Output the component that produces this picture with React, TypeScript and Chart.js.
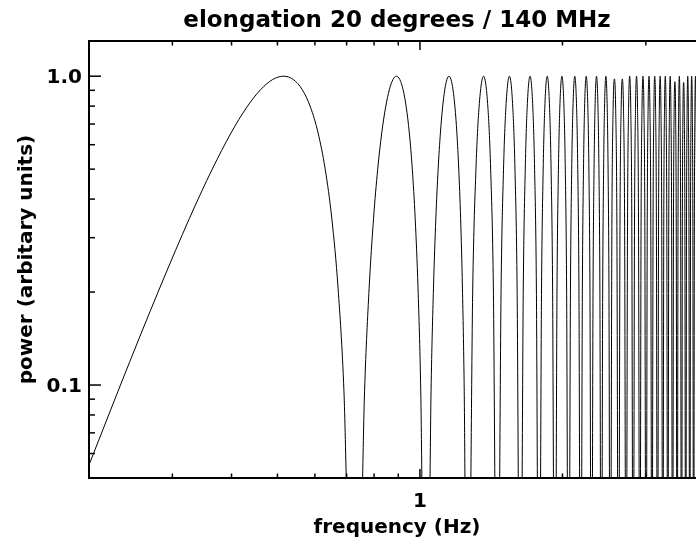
import { useEffect, useRef } from 'react';
import { Chart, registerables } from 'chart.js';

Chart.register(...registerables);

// Frequency (Hz) of the points, one line per lobe
const frequencyHz: number[] = [
  0.2, 0.2155, 0.2303, 0.2575, 0.2821, 0.3047, 0.3257, 0.3455, 0.3642, 0.3989, 0.4309, 0.4607, 0.4886, 0.515, 0.5402, 0.5642, 0.5872, 0.6094, 0.6308, 0.6515, 0.6715, 0.691, 0.7099,
  0.7463, 0.7639, 0.7811, 0.7979, 0.8143, 0.8304, 0.8463, 0.8618, 0.8771, 0.892, 0.9068, 0.9213, 0.9356, 0.9497, 0.9635, 0.9772, 0.9907, 1.004, 1.0171,
  1.0428, 1.0555, 1.068, 1.0803, 1.0925, 1.1046, 1.1165, 1.1284, 1.1401, 1.1516, 1.1631, 1.1744, 1.1857, 1.1968, 1.2078, 1.2188, 1.2296, 1.2403, 1.251,
  1.272, 1.2927, 1.3131, 1.3331, 1.3626, 1.3915, 1.4104, 1.4291, 1.4476,
  1.4658, 1.4838, 1.5015, 1.5191, 1.5451, 1.5706, 1.5874, 1.604, 1.6205,
  1.6368, 1.6529, 1.6689, 1.6847, 1.7081, 1.7313, 1.7465, 1.7617, 1.7766,
  1.7915, 1.8063, 1.8209, 1.8354, 1.8569, 1.8782, 1.8923, 1.9063, 1.9201,
  1.9339, 1.9476, 1.9611, 1.9746, 1.9947, 2.0145, 2.0276, 2.0407, 2.0536,
  2.0665, 2.0793, 2.092, 2.1047, 2.1235, 2.1421, 2.1545, 2.1668, 2.179,
  2.1911, 2.2032, 2.2152, 2.2271, 2.2449, 2.2626, 2.2743, 2.2859, 2.2975,
  2.309, 2.3205, 2.3319, 2.3432, 2.3601, 2.3769, 2.3881, 2.3991, 2.4102,
  2.4212, 2.4321, 2.443, 2.4538, 2.47, 2.486, 2.4967, 2.5073, 2.5178,
  2.5282, 2.5437, 2.5591, 2.5746, 2.59, 2.6055, 2.621,
  2.6311, 2.6459, 2.6608, 2.6757, 2.6905, 2.7054, 2.7203,
  2.73, 2.7444, 2.7587, 2.7731, 2.7874, 2.8018, 2.8161,
  2.8255, 2.8394, 2.8533, 2.8671, 2.881, 2.8949, 2.9088,
  2.9179, 2.9313, 2.9448, 2.9582, 2.9717, 2.9851, 2.9986,
  3.0074, 3.0205, 3.0335, 3.0466, 3.0597, 3.0727, 3.0858,
  3.0944, 3.1071, 3.1198, 3.1325, 3.1452, 3.1579, 3.1706,
  3.1789, 3.1913, 3.2037, 3.216, 3.2284, 3.2408, 3.2532,
  3.2613, 3.2734, 3.2854, 3.2975, 3.3096, 3.3216, 3.3337,
  3.3417, 3.3534, 3.3652, 3.377, 3.3888, 3.4006, 3.4123,
  3.4201, 3.4316, 3.4431, 3.4547, 3.4662, 3.4777, 3.4892,
  3.4968, 3.5081, 3.5193, 3.5306, 3.5419, 3.5531, 3.5644,
  3.5719, 3.5829, 3.5939, 3.605, 3.616, 3.627, 3.6381,
  3.6454, 3.6562, 3.667, 3.6778, 3.6886, 3.6995, 3.7103,
  3.7174, 3.728, 3.7386, 3.7493, 3.7599, 3.7705, 3.7811,
  3.7881, 3.7985, 3.8089, 3.8193, 3.8298, 3.8402, 3.8506,
  3.8575, 3.8677, 3.8779, 3.8882, 3.8984, 3.9086, 3.9189,
  3.9256, 3.9357, 3.9458, 3.9558, 3.9659, 3.9759, 3.986,
];

// Power (arbitrary units) at the same points
const powerArb: number[] = [
  0.0551, 0.0737, 0.0955, 0.1465, 0.2061, 0.273, 0.3455, 0.4218, 0.5, 0.6545, 0.7939, 0.9045, 0.9755, 1, 0.9755, 0.9045, 0.7939, 0.6545, 0.5, 0.3455, 0.2061, 0.0955, 0.0245,
  0.0245, 0.0955, 0.2061, 0.3455, 0.5, 0.6545, 0.7939, 0.9045, 0.9755, 1, 0.9755, 0.9045, 0.7939, 0.6545, 0.5, 0.3455, 0.2061, 0.0955, 0.0245,
  0.0245, 0.0955, 0.2061, 0.3455, 0.5, 0.6545, 0.7939, 0.9045, 0.9755, 1, 0.9755, 0.9045, 0.7939, 0.6545, 0.5, 0.3455, 0.2061, 0.0955, 0.0245,
  0.0245, 0.2061, 0.5, 0.7939, 1, 0.7939, 0.5, 0.2061, 0.0245,
  0.0245, 0.2061, 0.5, 0.7939, 1, 0.7939, 0.5, 0.2061, 0.0245,
  0.0245, 0.2061, 0.5, 0.7939, 1, 0.7939, 0.5, 0.2061, 0.0245,
  0.0245, 0.2061, 0.5, 0.7939, 1, 0.7939, 0.5, 0.2061, 0.0245,
  0.0245, 0.2061, 0.5, 0.7939, 1, 0.7939, 0.5, 0.2061, 0.0245,
  0.0245, 0.2061, 0.5, 0.7939, 1, 0.7939, 0.5, 0.2061, 0.0245,
  0.0245, 0.2061, 0.5, 0.7939, 1, 0.7939, 0.5, 0.2061, 0.0245,
  0.0245, 0.2061, 0.5, 0.7939, 1, 0.7939, 0.5, 0.2061, 0.0245,
  0.0245, 0.2061, 0.5, 0.7939, 1, 0.7939, 0.5, 0.2061, 0.0245,
  0.0245, 0.3455, 0.7939, 0.98, 0.7939, 0.3455, 0.0245,
  0.0245, 0.3455, 0.7939, 0.98, 0.7939, 0.3455, 0.0245,
  0.0245, 0.3455, 0.7939, 1, 0.7939, 0.3455, 0.0245,
  0.0245, 0.3455, 0.7939, 1, 0.7939, 0.3455, 0.0245,
  0.0245, 0.3455, 0.7939, 1, 0.7939, 0.3455, 0.0245,
  0.0245, 0.3455, 0.7939, 1, 0.7939, 0.3455, 0.0245,
  0.0245, 0.3455, 0.7939, 1, 0.7939, 0.3455, 0.0245,
  0.0245, 0.3455, 0.7939, 1, 0.7939, 0.3455, 0.0245,
  0.0245, 0.3455, 0.7939, 1, 0.7939, 0.3455, 0.0245,
  0.0245, 0.3455, 0.7939, 1, 0.7939, 0.3455, 0.0245,
  0.0245, 0.3455, 0.7939, 0.96, 0.7939, 0.3455, 0.0245,
  0.0245, 0.3455, 0.7939, 1, 0.7939, 0.3455, 0.0245,
  0.0245, 0.3455, 0.7939, 0.955, 0.7939, 0.3455, 0.0245,
  0.0245, 0.3455, 0.7939, 1, 0.7939, 0.3455, 0.0245,
  0.0245, 0.3455, 0.7939, 1, 0.7939, 0.3455, 0.0245,
  0.0245, 0.3455, 0.7939, 1, 0.7939, 0.3455, 0.0245,
  0.0245, 0.3455, 0.7939, 1, 0.7939, 0.3455, 0.0245,
  0.0245, 0.3455, 0.7939, 1, 0.7939, 0.3455, 0.0245,
];

const xRange = [0.2, 4];
const yRange = [0.05, 1.3];
const xMajorTicks = [1];
const xTickLabels = ['1'];
const xMinorTicks = [0.3, 0.4, 0.5, 0.6, 0.7, 0.8, 0.9, 2, 3];
const yMajorTicks = [0.1, 1];
const yTickLabels = ['0.1', '1.0'];
const yMinorTicks = [0.06, 0.07, 0.08, 0.09, 0.2, 0.3, 0.4, 0.5, 0.6, 0.7, 0.8, 0.9];

const TITLE = 'elongation 20 degrees / 140 MHz';
const X_TITLE = 'frequency (Hz)';
const Y_TITLE = 'power (arbitary units)';
const FONT = 'DejaVu Sans';

const framePlugin = {
  id: 'idlFrame',
  afterDatasetsDraw(chart: any) {
    const { ctx, chartArea, scales } = chart;
    const { left, right, top, bottom } = chartArea;
    const xs = scales.x;
    const ys = scales.y;
    ctx.save();
    ctx.strokeStyle = '#000';
    ctx.lineWidth = 2;
    ctx.strokeRect(left, top, right - left, bottom - top);
    ctx.lineWidth = 1.5;
    const seg = (x1: number, y1: number, x2: number, y2: number) => {
      ctx.beginPath();
      ctx.moveTo(x1, y1);
      ctx.lineTo(x2, y2);
      ctx.stroke();
    };
    const xTick = (v: number, len: number) => {
      const px = xs.getPixelForValue(v);
      seg(px, bottom, px, bottom - len);
      seg(px, top, px, top + len);
    };
    const yTick = (v: number, len: number) => {
      const py = ys.getPixelForValue(v);
      seg(left, py, left + len, py);
    };
    xMajorTicks.forEach((v) => xTick(v, 9));
    xMinorTicks.forEach((v) => xTick(v, 4.5));
    yMajorTicks.forEach((v) => yTick(v, 12));
    yMinorTicks.forEach((v) => yTick(v, 6));
    ctx.restore();
  },
};

export default function App() {
  const canvasRef = useRef<HTMLCanvasElement | null>(null);

  useEffect(() => {
    const canvas = canvasRef.current;
    if (!canvas) return;
    const points = frequencyHz.map((f, i) => ({ x: f, y: powerArb[i] }));
    const chart = new Chart(canvas, {
      type: 'line',
      data: {
        datasets: [
          {
            data: points,
            borderColor: '#000',
            borderWidth: 1,
            pointRadius: 0,
            fill: false,
            cubicInterpolationMode: 'monotone',
          },
        ],
      },
      options: {
        animation: false,
        responsive: false,
        events: [],
        layout: { padding: { left: 0, right: 35, top: 0, bottom: 0 } },
        plugins: {
          legend: { display: false },
          tooltip: { enabled: false },
          title: {
            display: true,
            text: TITLE,
            color: '#000',
            fullSize: false,
            font: { family: FONT, weight: 'bold', size: 23, lineHeight: 1 },
            padding: { top: 10, bottom: 8 },
          },
        },
        scales: {
          x: {
            type: 'logarithmic',
            position: 'bottom',
            min: xRange[0],
            max: xRange[1],
            grid: { display: false, drawTicks: false },
            border: { display: false },
            afterBuildTicks: (s: any) => {
              s.ticks = xMajorTicks.map((v) => ({ value: v }));
            },
            afterFit: (s: any) => {
              s.height = 62;
            },
            ticks: {
              autoSkip: false,
              maxRotation: 0,
              padding: 11.5,
              color: '#000',
              font: { family: FONT, weight: 'bold', size: 20, lineHeight: 1.2 },
              callback: (v: any) => {
                const i = xMajorTicks.indexOf(Number(v));
                return i >= 0 ? xTickLabels[i] : '';
              },
            },
            title: {
              display: true,
              text: X_TITLE,
              color: '#000',
              font: { family: FONT, weight: 'bold', size: 20, lineHeight: 1 },
              padding: { top: 0, bottom: 2 },
            },
          },
          y: {
            type: 'logarithmic',
            position: 'left',
            min: yRange[0],
            max: yRange[1],
            grid: { display: false, drawTicks: false },
            border: { display: false },
            afterBuildTicks: (s: any) => {
              s.ticks = yMajorTicks.map((v) => ({ value: v }));
            },
            afterFit: (s: any) => {
              s.width = 89;
            },
            ticks: {
              autoSkip: false,
              padding: 7,
              labelOffset: 1.5,
              color: '#000',
              font: { family: FONT, weight: 'bold', size: 20, lineHeight: 1.2 },
              callback: (v: any) => {
                const i = yMajorTicks.indexOf(Number(v));
                return i >= 0 ? yTickLabels[i] : '';
              },
            },
            title: {
              display: true,
              text: Y_TITLE,
              color: '#000',
              font: { family: FONT, weight: 'bold', size: 20, lineHeight: 1 },
              padding: { top: 17, bottom: 0 },
            },
          },
        },
      },
      plugins: [framePlugin],
    } as any);
    return () => chart.destroy();
  }, []);

  return (
    <div
      style={{
        position: 'fixed',
        left: 0,
        top: 0,
        width: 696,
        height: 540,
        overflow: 'hidden',
        background: '#fff',
      }}
    >
      <canvas ref={canvasRef} width={740} height={540} style={{ display: 'block', width: 740, height: 540 }} />
    </div>
  );
}
